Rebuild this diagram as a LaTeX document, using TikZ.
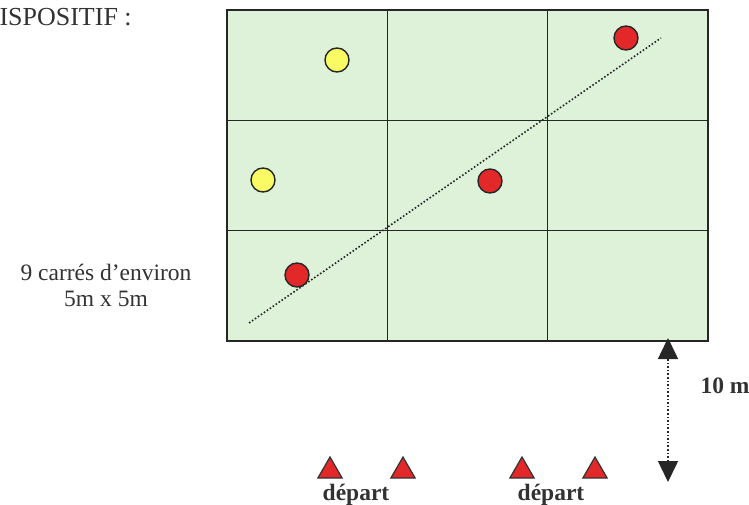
\documentclass[tikz,border=0pt]{standalone}
\usepackage{fontspec}
\setmainfont{Liberation Serif}
\usepackage{xcolor}
\usetikzlibrary{arrows.meta,positioning,shapes.geometric}

\definecolor{terrain}{RGB}{222,242,218}
\definecolor{rouge}{RGB}{226,40,40}
\definecolor{jaune}{RGB}{250,250,100}
\definecolor{texte}{RGB}{50,50,50}

\begin{document}
\begin{tikzpicture}[x=1pt,y=-1pt,
cell/.style={draw=black!85, fill=terrain, line width=1.2pt, minimum width=160.3pt, minimum height=110.3pt, inner sep=0pt, outer sep=0pt},
plot/.style={circle, draw=black!85, line width=1.4pt, minimum size=24pt, inner sep=0pt},
cone/.style={regular polygon, regular polygon sides=3, draw=black!80, fill=rouge, line width=1.2pt, minimum size=28pt, inner sep=0pt},
label/.style={text=texte, font=\fontsize{23.5}{26}\selectfont, align=center},
bold/.style={text=texte, font=\fontsize{23.5}{26}\selectfont\bfseries},
arrow/.style={{Triangle[length=21pt,width=20pt]}-{Triangle[length=21pt,width=20pt]}, dotted, line width=1.6pt, black!85}
]
\useasboundingbox (0,0) rectangle (749,505);

% grille des 9 carres
\foreach \i in {0,1,2}
  \foreach \j in {0,1,2}
    \node[cell, anchor=north west] (c\i\j) at ({227+160.3*\i},{10+110.3*\j}) {};

% diagonale
\coordinate (d1) at (249,323);
\coordinate (d2) at (661,38);
\draw[dotted, line width=1.6pt, black!85] (d1) -- (d2);

% plots
\node[plot, fill=jaune] (y1) at (337,60) {};
\node[plot, fill=jaune] (y2) at (263,180) {};
\node[plot, fill=rouge] (r1) at (626,38) {};
\node[plot, fill=rouge] (r2) at (490,181) {};
\node[plot, fill=rouge] (r3) at (297,275) {};

% textes
\node[label, anchor=west] (titre) at (-4,17) {\fontsize{26}{28}\selectfont ISPOSITIF :};
\node[label] (carres) at (106,285) {9 carrés d’environ\\5m x 5m};

% distance
\coordinate (h) at (668,338);
\coordinate (b) at (668,482);
\draw[arrow] (b) -- (h);
\node[bold, anchor=west] (dist) at (697,386) {10 m};

% departs
\node[cone] (t1) at (330,471) {};
\node[cone] (t2) at (403,471) {};
\node[cone] (t3) at (522,471) {};
\node[cone] (t4) at (595,471) {};
\node[bold] (dep1) at (356,495) {départ};
\node[bold] (dep2) at (551,495) {départ};
\end{tikzpicture}
\end{document}
